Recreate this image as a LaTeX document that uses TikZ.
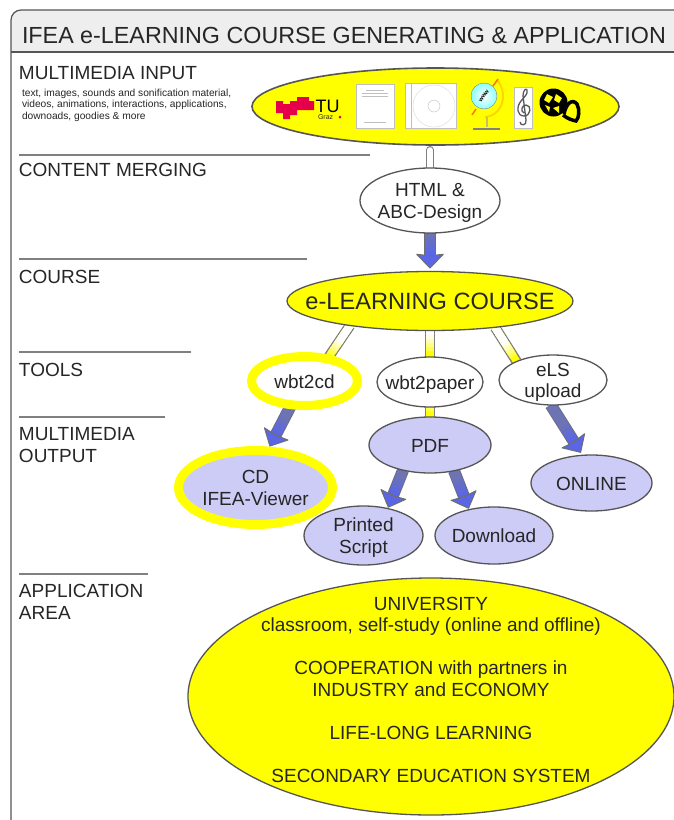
\documentclass[tikz,border=0pt]{standalone}
\usepackage{fontspec}
\setmainfont{Liberation Sans}
\usetikzlibrary{shapes.geometric,arrows.meta,calc}
\pgfdeclarelayer{links}
\pgfsetlayers{links,main}
\definecolor{ink}{HTML}{262626}
\definecolor{band}{HTML}{EEEEEE}
\definecolor{edgegray}{HTML}{555555}
\definecolor{rulegray}{HTML}{808080}
\definecolor{lilac}{HTML}{CCCCF6}
\definecolor{arrowblue}{HTML}{5A66E6}
\definecolor{ifeayellow}{HTML}{FFFF00}
\definecolor{tured}{HTML}{E6004C}
\tikzset{
  x=1pt,y=-1pt,
  every node/.style={text=ink,inner sep=0pt,outer sep=0pt,align=center},
  oval/.style={ellipse,draw=edgegray,line width=1.3pt},
  whiteoval/.style={oval,fill=white},
  lilacoval/.style={oval,fill=lilac},
  yellowoval/.style={oval,fill=ifeayellow},
  ringed/.style={draw=ifeayellow,line width=9pt},
  sectionlabel/.style={anchor=west,align=left,font=\fontsize{19}{21.5}\selectfont},
  sectionrule/.style={draw=rulegray,line width=2pt},
  label19/.style={font=\fontsize{19}{21.5}\selectfont},
}
\newcommand{\zw}[1]{\makebox[0pt]{\raisebox{-0.38em}[0pt][0pt]{\begin{tabular}{@{}c@{}}#1\end{tabular}}}}
\newcommand{\fatarrow}[3][3pt]{%
  \begin{pgfonlayer}{links}
  \draw[line width=12pt,color=edgegray!85,shorten >=#1,
    -{Stealth[length=15pt,width=29pt,inset=1.5pt,fill=arrowblue,line width=1pt,round]}] (#2) -- (#3);
  \foreach \i/\p in {0/100,1/90,2/80,3/70,4/60,5/50}{
    \draw[line width=10pt,color=arrowblue!\p!gray,shorten >={#1+14pt+\i*3.5pt}] (#2) -- (#3);
  }
  \end{pgfonlayer}}
\newcommand{\palelink}[2]{%
  \begin{pgfonlayer}{links}
  \draw[line width=10.5pt,color=gray] (#1) -- (#2);
  \draw[line width=7.5pt,color=ifeayellow] (#1) -- (#2);
  \foreach \i/\p in {0/30,1/50,2/70,3/90,4/100}{
    \draw[line width=7.5pt,color=white!\p!ifeayellow,shorten >={6pt+\i*4pt}] (#1) -- (#2);
  }
  \end{pgfonlayer}}
\begin{document}
\begin{tikzpicture}
\useasboundingbox (0,0) rectangle (674,820);
\begin{pgfonlayer}{links}
\fill[white] (0,0) rectangle (674,820);
\fill[band] (11,52) [rounded corners=10pt] -- (11,10) [sharp corners] -- (674,10) -- (674,52) -- cycle;
\draw[edgegray,line width=1.2pt,rounded corners=10pt] (11,820) -- (11,10) -- (674,10);
\draw[edgegray,line width=1.2pt] (11,52) -- (674,52);
\end{pgfonlayer}

\node[anchor=west,font=\fontsize{23.3}{28}\selectfont] (title) at (22,35) {IFEA e-LEARNING COURSE GENERATING \& APPLICATION};

% section labels and rules
\node[sectionlabel] (l1) at (19,73) {MULTIMEDIA INPUT};
\node[anchor=north west,align=left,font=\fontsize{10.2}{11.6}\selectfont] (l1s) at (22,89) {text, images, sounds and sonification material,\\videos, animations, interactions, applications,\\downoads, goodies \& more};
\node[sectionlabel] (l2) at (19,170) {CONTENT MERGING};
\node[sectionlabel] (l3) at (19,277) {COURSE};
\node[sectionlabel] (l4) at (19,370) {TOOLS};
\node[sectionlabel] (l5) at (19,445) {MULTIMEDIA\\OUTPUT};
\node[sectionlabel] (l6) at (19,602) {APPLICATION\\AREA};
\draw[sectionrule] (19,155) -- (370,155);
\draw[sectionrule] (19,259) -- (307,259);
\draw[sectionrule] (19,352) -- (191,352);
\draw[sectionrule] (19,417) -- (165,417);
\draw[sectionrule] (19,574) -- (148,574);

% nodes
\node[yellowoval,line width=1.6pt,minimum width=367pt,minimum height=77pt] (input) at (435.5,106.5) {};
\node[whiteoval,minimum width=140pt,minimum height=65pt,label19] (html) at (430,200.5) {\zw{HTML \&\\ABC-Design}};
\node[yellowoval,minimum width=286pt,minimum height=59pt,font=\fontsize{23.6}{28}\selectfont] (course) at (430,301) {\zw{e-LEARNING COURSE}};
\node[whiteoval,ringed,minimum width=106pt,minimum height=49pt,label19] (cdtool) at (304.5,381) {\zw{wbt2cd}};
\node[whiteoval,minimum width=106pt,minimum height=50pt,label19] (papertool) at (430,382) {\zw{wbt2paper}};
\node[whiteoval,minimum width=108pt,minimum height=50pt,label19] (els) at (553,380) {\zw{eLS\\upload}};
\node[lilacoval,minimum width=122pt,minimum height=56pt,label19] (pdf) at (430,445) {\zw{PDF}};
\node[lilacoval,minimum width=121pt,minimum height=56pt,label19] (online) at (591.5,483) {\zw{ONLINE}};
\node[lilacoval,ringed,minimum width=154pt,minimum height=74pt,label19] (cdview) at (255.5,487.5) {\zw{CD\\IFEA-Viewer}};
\node[lilacoval,minimum width=119pt,minimum height=59pt,label19] (print) at (363.5,535.5) {\zw{Printed\\Script}};
\node[lilacoval,minimum width=118pt,minimum height=57pt,label19] (down) at (494,535.5) {\zw{Download}};
\node[yellowoval,minimum width=486pt,minimum height=237pt] (uni) at (431,696.5) {};
\node[font=\fontsize{19}{21.5}\selectfont] (unitext) at (431,689.5) {UNIVERSITY\\classroom, self-study (online and offline)\\[21.5pt]COOPERATION with partners in\\INDUSTRY and ECONOMY\\[21.5pt]LIFE-LONG LEARNING\\[21.5pt]SECONDARY EDUCATION SYSTEM};

% connectors
\begin{pgfonlayer}{links}
\draw[line width=8pt,color=gray,line cap=round] (html) -- (html |- 0,150);
\draw[line width=5.5pt,color=white,line cap=round] (html) -- (html |- 0,150);
\end{pgfonlayer}
\fatarrow{html}{course}
\palelink{course.197}{cdtool.44}
\palelink{course}{papertool}
\palelink{course.-22}{els.153}
\palelink{papertool}{pdf}
\fatarrow[5pt]{cdtool.241}{cdview.72}
\fatarrow{els.-95}{online.108}
\fatarrow[1pt]{pdf.223}{print.48}
\fatarrow[1pt]{pdf.-47}{down.134}

% TU logo
\fill[tured] (276,101) rectangle (283,113) (283,104) rectangle (290,119) (290,101) rectangle (297,115) (297,97) rectangle (309,110) (309,101) rectangle (314,110);
\node[font=\fontsize{18}{18}\selectfont,anchor=west,text=black] (tu) at (315.5,106.5) {TU};
\node[font=\fontsize{7}{7}\selectfont,anchor=west] (graz) at (318,117) {Graz};
\fill[tured] (340,117) circle (1.5);
% document
\draw[lightgray,fill=white] (356,84) rectangle (394,128);
\draw[lightgray,line width=.6pt] (366,90) -- (384,90) (362,93) -- (388,93) (362,96) -- (388,96) (364,122) -- (386,122);
% CD
\draw[lightgray,fill=white] (405,83) rectangle (456,128);
\draw[lightgray] (411,83) -- (411,128);
\draw[black!15,fill=white] (434,106) circle (21);
\draw[lightgray,fill=white] (434,106) circle (6);
% globe
\draw[yellow!75!orange,line width=2pt] (497,80) .. controls (508,92) and (504,115) .. (485,117);
\shade[inner color=white,outer color=cyan!45] (484,96) circle (13);
\draw[gray] (484,96) circle (13);
\draw[orange!90!red,line width=1.5pt] (472,115) -- (476,109) (493,86) -- (498,79);
\node[rotate=55,font=\fontsize{6}{6}\selectfont\bfseries,text=black] (www) at (484,96) {www};
\draw[yellow!50!gray,line width=1.5pt] (487,117) -- (487,127);
\draw[gray,line width=2pt] (473,129) -- (500,129);
% clef
\draw[lightgray,fill=white] (514,87) rectangle (532,128);
\draw[gray!70!black,line width=1.3pt] (524,113) .. controls (520,111) and (522,105) .. (526,105) .. controls (532,105) and (531,116) .. (524,116) .. controls (517,116) and (516,107) .. (521,101) .. controls (525,96) and (528,94) .. (527,90) .. controls (526,88) and (523,90) .. (523,96) -- (526,120) .. controls (527,126) and (520,126) .. (520,122);
% film reel
\fill[black] (553.5,102.5) circle (14);
\fill[ifeayellow] (547,94) -- (553,97) -- (549,103) -- (544,100) -- cycle (556,94) -- (562,98) -- (559,103) -- (554,100) -- cycle (545,105) -- (550,107) -- (549,112) -- cycle (553,108) -- (559,106) -- (559,113) -- cycle;
\draw[black,line width=3.5pt] (564,114) .. controls (566,104) and (572,98) .. (577,104) .. controls (580,110) and (579,118) .. (576,121) .. controls (572,120) and (568,119) .. (563,115);
\end{tikzpicture}
\end{document}
